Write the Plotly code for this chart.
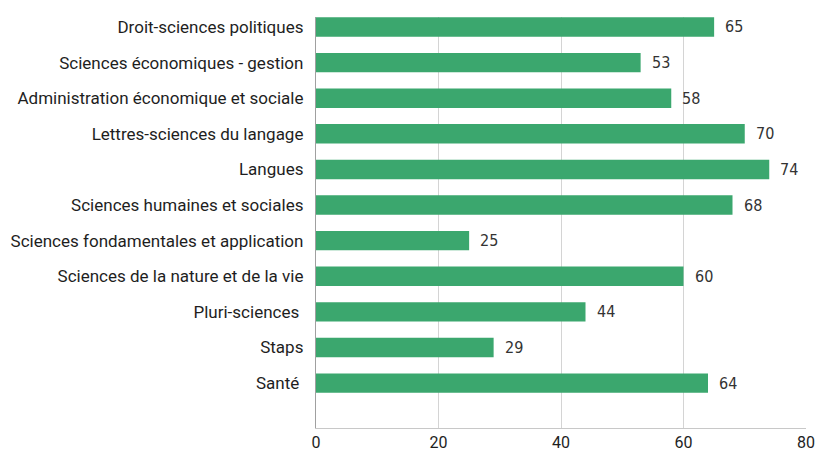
import plotly.graph_objects as go

# Filières (top to bottom) and their values
categories = [
    "Droit-sciences politiques",
    "Sciences économiques - gestion",
    "Administration économique et sociale",
    "Lettres-sciences du langage",
    "Langues",
    "Sciences humaines et sociales",
    "Sciences fondamentales et application",
    "Sciences de la nature et de la vie",
    "Pluri-sciences ",
    "Staps",
    "Santé ",
]
values = [65, 53, 58, 70, 74, 68, 25, 60, 44, 29, 64]
x_ticks = [0, 20, 40, 60, 80]

bar_color = "#3ba76e"
label_font = "Roboto, Inter, sans-serif"
value_font = "Liberation Sans Narrow, DejaVu Sans Condensed, sans-serif"

fig = go.Figure()
fig.add_trace(go.Bar(
    x=values,
    y=categories,
    orientation="h",
    marker=dict(color=bar_color, line=dict(width=0)),
    hoverinfo="x+y",
))

# Value labels next to each bar end
for cat, v in zip(categories, values):
    fig.add_annotation(
        x=v, y=cat, text=str(v), showarrow=False,
        xanchor="left", xshift=9,
        font=dict(family=value_font, size=16, color="#333333"),
    )

fig.update_layout(
    width=818, height=451,
    margin=dict(l=316, r=12, t=17, b=23),
    plot_bgcolor="white", paper_bgcolor="white",
    bargap=0.455,
    showlegend=False,
    font=dict(family=label_font, color="#1e1e1e"),
)
fig.update_xaxes(
    range=[0, 80], tickvals=x_ticks, ticktext=[str(t) for t in x_ticks],
    showgrid=True, gridcolor="#d4d4d4", gridwidth=1.3,
    showline=True, linecolor="#c8c8c8", linewidth=1.3,
    zeroline=False, ticks="", automargin=False,
    tickfont=dict(family=label_font, size=16, color="#1e1e1e"),
    fixedrange=True,
)
fig.update_yaxes(
    type="category", categoryorder="array", categoryarray=categories,
    range=[11.26, -0.28],
    showgrid=False, showline=True, linecolor="#a0a0a0", linewidth=1.3,
    ticks="", ticklabelstandoff=8, automargin=False,
    tickfont=dict(family=label_font, size=17, color="#1e1e1e"),
    fixedrange=True,
)

fig.write_html("out.html")
